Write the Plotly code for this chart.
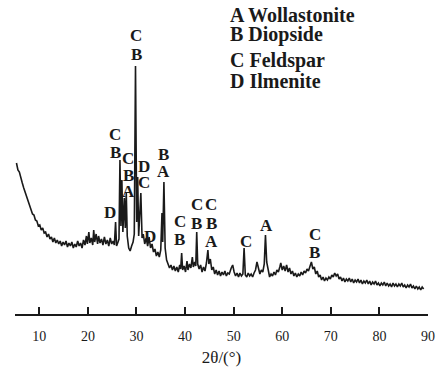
import plotly.graph_objects as go

# ---- data (2θ in degrees, intensity in arbitrary units) ----
two_theta = [
    5.3, 5.6, 5.9, 6.2, 6.5, 6.8, 7.1, 7.4, 7.7, 8.0, 8.3, 8.6, 8.9, 9.2, 9.5, 9.8,
    10.1, 10.4, 10.7, 11.0, 11.3, 11.6, 11.9, 12.2, 12.5, 12.8, 13.1, 13.4, 13.7, 14.0,
    14.3, 14.6, 14.9, 15.2, 15.5, 15.8, 16.1, 16.4, 16.7, 17.0, 17.3, 17.6, 17.9, 18.2,
    18.5, 18.8, 19.1, 19.4, 19.7, 19.9, 20.2, 20.4, 20.7, 21.0, 21.2, 21.4, 21.7, 22.0,
    22.2, 22.5, 22.8, 23.1, 23.4, 23.7, 24.0, 24.3, 24.6, 24.9, 25.2, 25.45, 25.7, 25.9,
    26.2, 26.4, 26.6, 26.8, 27.0, 27.2, 27.5, 27.7, 27.9, 28.1, 28.4, 28.7, 29.0, 29.3,
    29.55, 29.8, 30.05, 30.25, 30.45, 30.9, 31.15, 31.4, 31.7, 32.0, 32.3, 32.6, 32.9,
    33.2, 33.5, 33.8, 34.1, 34.4, 34.7, 35.0, 35.25, 35.4, 35.65, 35.9, 36.2, 36.5, 36.8,
    37.1, 37.4, 37.7, 38.0, 38.3, 38.6, 38.9, 39.1, 39.3, 39.5, 39.8, 40.1, 40.4, 40.6,
    40.9, 41.2, 41.5, 41.7, 42.0, 42.2, 42.4, 42.6, 42.9, 43.2, 43.5, 43.8, 44.1, 44.4,
    44.7, 44.9, 45.2, 45.5, 45.8, 46.1, 46.4, 46.7, 47.0, 47.3, 47.6, 47.9, 48.2, 48.5,
    48.8, 49.1, 49.5, 49.8, 50.1, 50.4, 50.7, 51.0, 51.3, 51.6, 51.9, 52.15, 52.4, 52.7,
    53.0, 53.3, 53.6, 53.9, 54.2, 54.5, 54.8, 55.1, 55.4, 55.7, 56.0, 56.3, 56.55, 56.8,
    57.1, 57.4, 57.7, 58.0, 58.3, 58.6, 58.9, 59.2, 59.5, 59.7, 60.0, 60.3, 60.6, 60.9,
    61.2, 61.5, 61.8, 62.1, 62.4, 62.7, 63.0, 63.3, 63.6, 63.9, 64.2, 64.5, 64.8, 65.1,
    65.4, 65.7, 66.0, 66.3, 66.6, 66.9, 67.2, 67.5, 67.8, 68.1, 68.4, 68.7, 69.0, 69.3,
    69.6, 69.9, 70.2, 70.5, 70.8, 71.1, 71.4, 71.7, 72.0, 72.3, 72.6, 72.9, 73.2, 73.5,
    73.8, 74.1, 74.4, 74.7, 75.0, 75.3, 75.6, 75.9, 76.2, 76.5, 76.8, 77.1, 77.4, 77.7,
    78.0, 78.3, 78.6, 78.9, 79.2, 79.5, 79.8, 80.1, 80.4, 80.7, 81.0, 81.3, 81.6, 81.9,
    82.2, 82.5, 82.8, 83.1, 83.4, 83.7, 84.0, 84.3, 84.6, 84.9, 85.2, 85.5, 85.8, 86.1,
    86.4, 86.7, 87.0, 87.3, 87.6, 87.9, 88.2, 88.5, 88.8, 89.1,
]
intensity = [
    151, 144, 142, 135, 131, 126, 122, 116, 113, 108, 106, 100, 99, 94, 93, 88,
    89, 84, 86, 81, 82, 77, 80, 75, 77, 72, 76, 71, 74, 70,
    73, 68, 72, 69, 73, 67, 71, 68, 72, 66, 70, 67, 73, 68,
    71, 66, 74, 69, 78, 70, 82, 71, 76, 69, 84, 72, 80, 70,
    78, 71, 75, 69, 77, 70, 74, 68, 76, 70, 73, 69, 92, 68,
    72, 75, 154, 88, 134, 82, 116, 86, 121, 78, 66, 63, 68, 72,
    80, 248, 92, 137, 78, 121, 76, 80, 70, 76, 68, 77, 66,
    70, 62, 65, 58, 62, 57, 64, 101, 72, 132, 66, 54, 50, 46,
    49, 44, 48, 43, 47, 42, 49, 45, 61, 44, 48, 42, 53, 44,
    50, 46, 57, 47, 52, 48, 82, 50, 45, 49, 42, 47, 43, 51,
    64, 50, 55, 44, 47, 40, 44, 39, 43, 38, 42, 39, 43, 38,
    41, 40, 46, 49, 42, 38, 41, 37, 41, 38, 40, 66, 39, 37,
    41, 38, 40, 37, 41, 44, 52, 45, 40, 44, 42, 50, 79, 52,
    42, 37, 40, 38, 42, 39, 44, 42, 47, 51, 44, 48, 43, 49,
    42, 46, 40, 43, 38, 41, 37, 40, 38, 42, 39, 43, 41, 45,
    43, 48, 52, 45, 47, 40, 43, 37, 39, 34, 37, 33, 36, 34,
    37, 35, 39, 37, 41, 38, 40, 35, 37, 33, 36, 32, 35, 33,
    36, 32, 35, 31, 34, 32, 35, 31, 34, 30, 33, 31, 34, 30,
    33, 29, 32, 30, 33, 29, 31, 28, 31, 29, 32, 28, 31, 28,
    30, 27, 31, 28, 30, 27, 30, 28, 31, 27, 29, 26, 29, 27,
    30, 26, 28, 25, 28, 25, 27, 24, 27, 25,
]

# peak phase labels (one letter each)
label_text = ["C", "B", "C", "B", "C", "B", "A", "D", "C", "B", "A",
              "D", "D", "C", "B", "C", "B", "C", "B", "A", "C", "A", "C", "B"]
label_x = [29.99, 29.99, 25.63, 25.63, 28.3, 28.3, 28.3, 31.63, 31.63, 35.5, 35.5,
           24.54, 32.76, 38.93, 38.93, 42.43, 42.43, 45.41, 45.41, 45.41, 52.5, 56.76, 66.7, 66.7]
label_y = [279, 260, 180, 162, 156, 139, 123, 148, 132, 160, 143,
           102, 78, 93, 75, 110, 91, 110, 91, 73, 73, 89, 80, 62]

legend_lines = ["A Wollastonite", "B Diopside", "C Feldspar", "D Ilmenite"]

tick_vals = [10, 20, 30, 40, 50, 60, 70, 80, 90]
tick_text = ["10", "20", "30", "40", "50", "60", "70", "80", "90"]

SERIF = "Liberation Serif, Times New Roman, serif"

fig = go.Figure()
fig.add_trace(go.Scatter(
    x=two_theta, y=intensity, mode="lines",
    line=dict(color="#1a1a1a", width=1.6),
    showlegend=False, hoverinfo="skip",
))

annotations = []
for t, x, y in zip(label_text, label_x, label_y):
    annotations.append(dict(
        x=x, y=y, xref="x", yref="y", text="<b>" + t + "</b>", showarrow=False,
        xanchor="center", yanchor="middle",
        font=dict(family=SERIF, size=17, color="#1a1a1a"),
    ))

legend_py = [14.5, 35, 60, 81]
for txt, py in zip(legend_lines, legend_py):
    annotations.append(dict(
        x=(228 - 15) / 413, y=(314 - py) / 300, xref="paper", yref="paper",
        text="<b>" + txt + "</b>", showarrow=False, xanchor="left", yanchor="middle",
        font=dict(family=SERIF, size=20, color="#1a1a1a"),
    ))

fig.update_layout(
    width=440, height=371,
    margin=dict(l=15, r=12, t=14, b=57, autoexpand=False),
    paper_bgcolor="white", plot_bgcolor="white",
    font=dict(family=SERIF, color="#1a1a1a"),
    annotations=annotations,
    xaxis=dict(
        range=[5, 90], tickvals=tick_vals, ticktext=tick_text,
        ticks="inside", ticklen=7, tickwidth=1.5, tickcolor="#1a1a1a",
        showline=True, linewidth=2, linecolor="#1a1a1a", automargin=False,
        showgrid=False, zeroline=False, ticklabelstandoff=8,
        tickfont=dict(family=SERIF, size=14, color="#1a1a1a"),
        title=dict(text="2θ/(°)", font=dict(family=SERIF, size=17, color="#1a1a1a"), standoff=8),
    ),
    yaxis=dict(range=[0, 300], visible=False, showgrid=False, zeroline=False),
)

fig.write_html(
    "out.html",
    config={"displayModeBar": False},
    post_script="document.body.style.margin='0';document.body.style.padding='0';",
)
